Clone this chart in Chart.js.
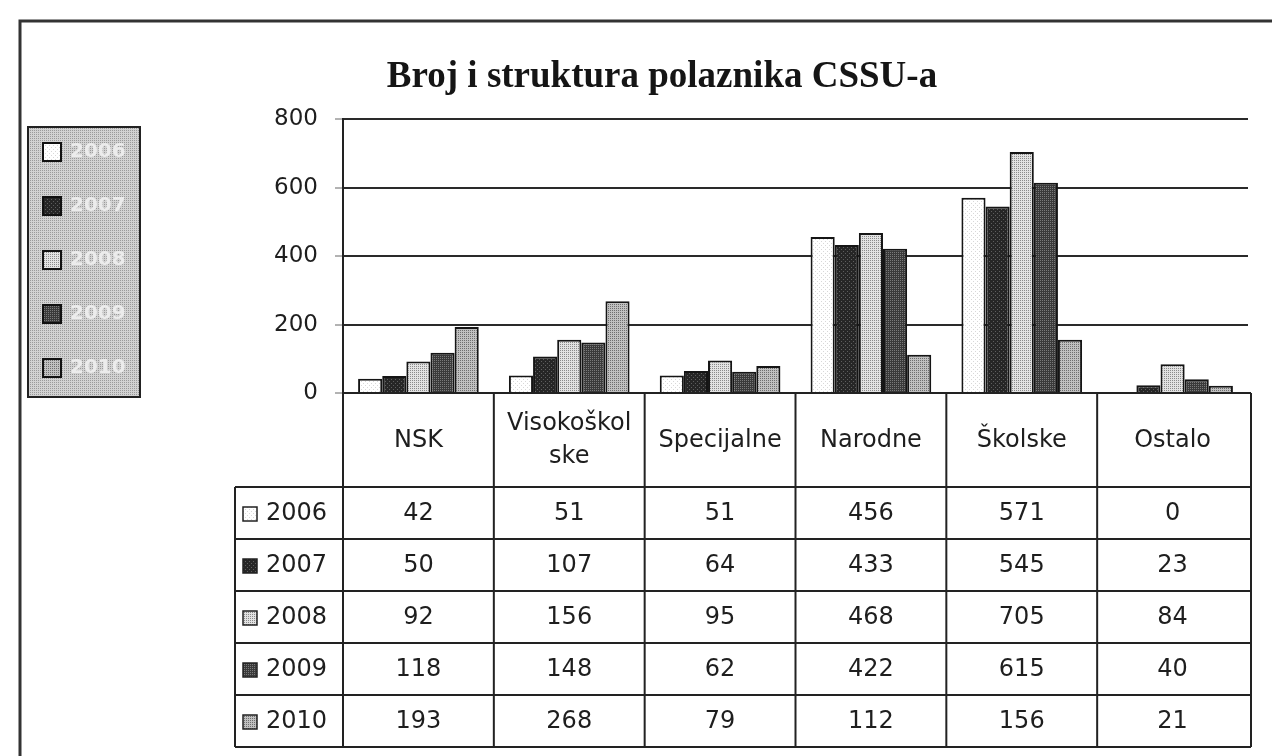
<!DOCTYPE html>
<html><head><meta charset="utf-8">
<script src="https://cdn.jsdelivr.net/npm/chart.js@4.4.0/dist/chart.umd.min.js"></script>
<style>html,body{margin:0;padding:0;background:#fff;} #wrap{position:relative;width:1284px;height:756px;}</style>
</head><body><div id="wrap"><canvas id="c" width="1284" height="756"></canvas></div>
<script>
const chartTitle = 'Broj i struktura polaznika CSSU-a';
const categories = ['NSK', ['Visokoškol','ske'], 'Specijalne', 'Narodne', 'Školske', 'Ostalo'];
const seriesNames = ['2006','2007','2008','2009','2010'];
const s2006 = [42,51,51,456,571,0];
const s2007 = [50,107,64,433,545,23];
const s2008 = [92,156,95,468,705,84];
const s2009 = [118,148,62,422,615,40];
const s2010 = [193,268,79,112,156,21];
const yTickValues = [0,200,400,600,800];
const seriesValues = [s2006,s2007,s2008,s2009,s2010];

function makePattern(bg, dot) {
  const c = document.createElement('canvas');
  c.width = 4; c.height = 4;
  const g = c.getContext('2d');
  g.fillStyle = bg; g.fillRect(0,0,4,4);
  g.fillStyle = dot;
  g.fillRect(0,0,1,1); g.fillRect(2,2,1,1);
  g.fillRect(2,0,1,1); g.fillRect(0,2,1,1);
  return g.createPattern(c,'repeat');
}
function makePattern2(bg, dot) {
  const c = document.createElement('canvas');
  c.width = 4; c.height = 4;
  const g = c.getContext('2d');
  g.fillStyle = bg; g.fillRect(0,0,4,4);
  g.fillStyle = dot;
  g.fillRect(1,1,1,1); g.fillRect(3,3,1,1);
  return g.createPattern(c,'repeat');
}
const fills = [
  makePattern2('#ffffff', '#d8d8d8'),
  makePattern2('#262626', '#5e5e5e'),
  makePattern('#e2e2e2', '#8a8a8a'),
  makePattern('#3a3a3a', '#7a7a7a'),
  makePattern('#c0c0c0', '#6e6e6e')
];
const legendBg = makePattern('#d2d2d2', '#9a9a9a');

const FONT = "'DejaVu Sans', 'Liberation Sans', Arial, sans-serif";
const INK = '#1e1e1e';

const framePlugin = {
  id: 'frame',
  beforeDraw(chart) {
    const ctx = chart.ctx;
    ctx.save();
    ctx.strokeStyle = '#333';
    ctx.lineWidth = 3;
    ctx.beginPath();
    ctx.moveTo(20, 756); ctx.lineTo(20, 21); ctx.lineTo(1272, 21);
    ctx.stroke();
    ctx.restore();
  }
};

const legendPlugin = {
  id: 'sideLegend',
  afterDraw(chart) {
    const ctx = chart.ctx;
    ctx.save();
    const bx = 28, by = 127, bw = 112, bh = 270;
    ctx.fillStyle = legendBg;
    ctx.fillRect(bx, by, bw, bh);
    ctx.strokeStyle = '#222'; ctx.lineWidth = 2;
    ctx.strokeRect(bx, by, bw, bh);
    const step = bh / seriesNames.length;
    seriesNames.forEach((name, i) => {
      const cy = by + step * (i + 0.5) - 2;
      ctx.fillStyle = fills[i];
      ctx.fillRect(43, cy - 9, 18, 18);
      ctx.strokeStyle = '#111'; ctx.lineWidth = 2;
      ctx.strokeRect(43, cy - 9, 18, 18);
      ctx.fillStyle = '#ececec';
      ctx.font = 'bold 20px ' + FONT;
      ctx.textBaseline = 'middle';
      ctx.textAlign = 'left';
      ctx.fillText(name, 70, cy);
    });
    ctx.restore();
  }
};

const tablePlugin = {
  id: 'dataTable',
  afterDraw(chart) {
    const ctx = chart.ctx;
    const xs = chart.scales.x;
    const area = chart.chartArea;
    const n = categories.length;
    const colW = (area.right - area.left) / n;
    const headerTop = area.bottom;
    const headerBottom = area.bottom + 94;
    const rowH = 52;
    const tableBottom = headerBottom + rowH * seriesNames.length;
    const labelLeft = 235;
    const right = area.right + 3;
    ctx.save();
    ctx.strokeStyle = '#222';
    ctx.lineWidth = 2;
    ctx.beginPath();
    for (let i = 0; i <= n; i++) {
      let x = i === 0 ? area.left : (i === n ? right : xs.getPixelForValue(i) - colW / 2);
      ctx.moveTo(x, headerTop); ctx.lineTo(x, tableBottom);
    }
    ctx.moveTo(labelLeft, headerBottom); ctx.lineTo(labelLeft, tableBottom);
    ctx.moveTo(area.left, headerTop); ctx.lineTo(right, headerTop);
    for (let r = 0; r <= seriesNames.length; r++) {
      const y = headerBottom + r * rowH;
      ctx.moveTo(labelLeft, y); ctx.lineTo(right, y);
    }
    ctx.stroke();
    ctx.font = '24px ' + FONT;
    ctx.textBaseline = 'middle';
    seriesNames.forEach((name, r) => {
      const cy = headerBottom + r * rowH + rowH / 2 + 1;
      ctx.fillStyle = fills[r];
      ctx.fillRect(243, cy - 7, 14, 14);
      ctx.strokeStyle = '#222'; ctx.lineWidth = 1.5;
      ctx.strokeRect(243, cy - 7, 14, 14);
      ctx.fillStyle = INK;
      ctx.textAlign = 'left';
      ctx.fillText(name, 266, cy);
      ctx.textAlign = 'center';
      seriesValues[r].forEach((v, c) => {
        ctx.fillText(String(v), xs.getPixelForValue(c), cy);
      });
    });
    ctx.restore();
  }
};

const datasets = seriesNames.map((name, i) => ({
  label: name,
  data: seriesValues[i],
  backgroundColor: fills[i],
  borderColor: '#151515',
  borderWidth: 2,
  borderSkipped: 'bottom',
  categoryPercentage: 0.8,
  barPercentage: 1.0
}));

new Chart(document.getElementById('c'), {
  type: 'bar',
  data: { labels: categories, datasets },
  plugins: [framePlugin, legendPlugin, tablePlugin],
  options: {
    responsive: false,
    animation: false,
    devicePixelRatio: 1,
    layout: { padding: { left: 76, right: 36, top: 0, bottom: 9 } },
    plugins: {
      legend: { display: false },
      tooltip: { enabled: false },
      title: {
        display: true,
        text: chartTitle,
        color: '#151515',
        font: { family: "'Liberation Serif', 'Times New Roman', serif", size: 37, weight: 'bold', lineHeight: 1.2 },
        padding: { top: 55, bottom: 20 }
      }
    },
    scales: {
      x: {
        type: 'category',
        grid: { display: false, drawTicks: false },
        border: { display: true, color: '#222', width: 2 },
        ticks: {
          color: INK,
          font: { family: FONT, size: 24, lineHeight: 1.375 },
          padding: 31,
          crossAlign: 'center',
          maxRotation: 0, minRotation: 0, autoSkip: false
        },
        afterFit(s) { s.height = 354; }
      },
      y: {
        min: 0, max: 800,
        afterBuildTicks(s) { s.ticks = yTickValues.map(v => ({ value: v })); },
        grid: { color: '#2a2a2a', lineWidth: 2, tickLength: 8, tickColor: '#666', tickWidth: 1 },
        border: { display: true, color: '#222', width: 2 },
        ticks: { color: INK, font: { family: FONT, size: 23 }, padding: 17 },
        afterFit(s) { s.width = 267; }
      }
    }
  }
});
</script>
</body></html>
